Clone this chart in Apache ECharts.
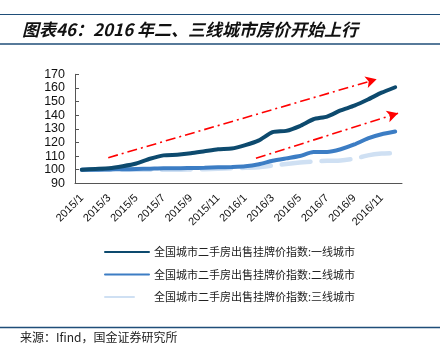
<!DOCTYPE html>
<html><head><meta charset="utf-8">
<script src="https://cdn.jsdelivr.net/npm/echarts@6/dist/echarts.min.js"></script>
<style>html,body{margin:0;padding:0;background:#fff}#c{width:444px;height:346px}</style>
</head><body><div id="c"></div>
<script>
const months = ['2015/1','2015/2','2015/3','2015/4','2015/5','2015/6','2015/7','2015/8','2015/9','2015/10','2015/11','2015/12',
  '2016/1','2016/2','2016/3','2016/4','2016/5','2016/6','2016/7','2016/8','2016/9','2016/10','2016/11','2016/12'];
const tier1 = [100,100.5,101,102.5,104.5,108,110.5,111,112,113.5,115,115.5,118,121.5,127.5,128.5,132,137,139,143.5,147,151.5,156.5,160.5];
const tier2 = [100,100,100.2,100.3,100.5,100.7,101,101,101.2,101.4,101.7,102,102.5,104,106.5,108.3,110,113,113,115,118.5,123,126,128];
const tier3 = [100,100,100,100,100,100,100,100,100.2,100.4,100.6,101,101.4,101.8,103,104.2,105.2,106,106.5,106.8,108,110.5,111.8,112.2];
const seriesNames = ['全国城市二手房出售挂牌价指数:一线城市','全国城市二手房出售挂牌价指数:二线城市','全国城市二手房出售挂牌价指数:三线城市'];
const yTicks = {min:90, max:170, interval:10};
// trend arrows in (month offset from axis start, index value)
const arrowUpper = [[2.44,108.8],[22.14,166.4]];
const arrowLower = [[13.28,108.4],[23.71,141.4]];
const titleText = '图表46：2016 年二、三线城市房价开始上行';
const sourceText = '来源：Ifind，国金证券研究所';

const chart = echarts.init(document.getElementById('c'));
const rule = '#1F4E79';
chart.setOption({
  animation:false,
  textStyle:{fontFamily:'Liberation Sans, Arial, sans-serif'},
  graphic:[
    {type:'line',shape:{x1:0,y1:14.5,x2:440,y2:14.5},style:{stroke:rule,lineWidth:1.2}},
    {type:'line',shape:{x1:0,y1:44,x2:440,y2:44},style:{stroke:rule,lineWidth:1.6}},
    {type:'text',left:22,top:21,style:{text:titleText,font:'italic bold 17px "Noto Sans CJK SC"',fill:'#111'}},
    {type:'line',shape:{x1:0,y1:327.5,x2:440,y2:327.5},style:{stroke:rule,lineWidth:1.5}},
    {type:'text',left:20,top:331,style:{text:sourceText,font:'12px "Noto Sans CJK SC"',fill:'#222'}}
  ],
  grid:{left:75,right:42,top:74.3,bottom:162.7,containLabel:false},
  legend:{
    orient:'vertical',left:104,top:245,padding:0,itemWidth:44,itemHeight:4,itemGap:8.5,
    itemStyle:{opacity:0},
    textStyle:{fontSize:11,color:'#222',fontFamily:'"Noto Sans CJK SC"',lineHeight:14},
    data:[seriesNames[0],seriesNames[1],{name:seriesNames[2],lineStyle:{type:[29,30]}}]
  },
  xAxis:[{
    type:'category',data:months,boundaryGap:true,
    axisLine:{lineStyle:{color:'#555',width:1}},
    axisTick:{inside:true,length:4,interval:1,lineStyle:{color:'#555'}},
    axisLabel:{interval:1,rotate:45,fontSize:11,color:'#111',margin:13}
  },{
    type:'value',min:0,max:24,show:false
  }],
  yAxis:{
    type:'value',min:yTicks.min,max:yTicks.max,interval:yTicks.interval,
    axisLine:{show:true,lineStyle:{color:'#555'}},
    axisTick:{show:true,inside:true,length:4,lineStyle:{color:'#555'}},
    axisLabel:{fontSize:12.5,color:'#111',margin:10},
    splitLine:{show:false}
  },
  series:[
    {name:seriesNames[2],type:'line',data:tier3,symbol:'none',smooth:0.2,z:2,
      lineStyle:{color:'#CFE0F3',width:4.5,type:[29,11],cap:'round'},itemStyle:{color:'#CFE0F3'}},
    {name:seriesNames[1],type:'line',data:tier2,symbol:'none',smooth:0.2,z:3,
      lineStyle:{color:'#3C7DC4',width:4,cap:'round'},itemStyle:{color:'#3C7DC4'}},
    {name:seriesNames[0],type:'line',data:tier1,symbol:'none',smooth:0.2,z:4,
      lineStyle:{color:'#0D4A6E',width:4,cap:'round'},itemStyle:{color:'#0D4A6E'}},
    {type:'line',xAxisIndex:1,data:[],silent:true,z:5,
      markLine:{silent:true,symbol:['none','arrow'],symbolSize:[9,11],label:{show:false},
        lineStyle:{color:'#FF0000',width:1.6,type:[10,4,2,4]},
        data:[
          [{coord:arrowUpper[0]},{coord:arrowUpper[1]}],
          [{coord:arrowLower[0]},{coord:arrowLower[1]}]
        ]}}
  ]
});
</script></body></html>
